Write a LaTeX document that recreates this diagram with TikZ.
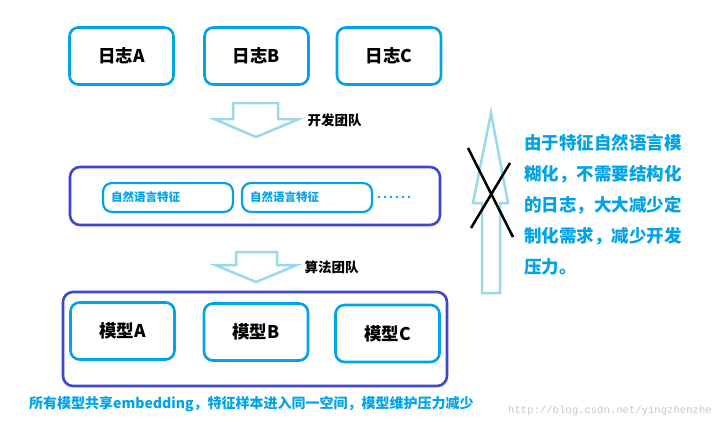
\documentclass[tikz,border=0pt]{standalone}
\usepackage{fontspec}
\setmainfont{Noto Sans CJK SC}
\newfontfamily\wmfont{Liberation Mono}
\usepackage{tikz}
\usetikzlibrary{arrows}
\definecolor{cyanblue}{HTML}{00A2E8}
\definecolor{groupblue}{HTML}{3F48CC}
\definecolor{arrowblue}{HTML}{99D9EA}

\begin{document}
\begin{tikzpicture}[x=1pt, y=-1pt,
		logbox/.style={draw=cyanblue, line width=2.6pt, rounded corners=9pt, minimum width=104pt, minimum height=57pt, font=\fontsize{17.5}{20}\selectfont\bfseries},
		groupbox/.style={draw=groupblue, line width=2.6pt, rounded corners=10pt},
		featbox/.style={draw=cyanblue, line width=2.2pt, rounded corners=9pt, minimum width=130pt, minimum height=29pt, text width=114pt, align=left, text=cyanblue, font=\fontsize{11.5}{13}\selectfont\bfseries},
		hollow/.style={draw=arrowblue, line width=2.5pt, line join=miter},
		teamlabel/.style={anchor=west, font=\fontsize{13.5}{16}\selectfont\bfseries}]
		% Bildbereich
		\useasboundingbox (0,0) rectangle (720,423);
		% Logs oben
		\node[logbox] (logA) at (121.5,56) {日志A};
		\node[logbox] (logB) at (256.5,56) {日志B};
		\node[logbox] (logC) at (389,56) {日志C};
		% Pfeil Entwicklung
		\draw[hollow] (233,103) -- (278,103) -- (278,119) -- (299,119) -- (256,137) -- (214,119) -- (233,119) -- cycle;
		\node[teamlabel] (devteam) at (304,120) {开发团队};
		% Merkmale
		\node[groupbox, minimum width=370pt, minimum height=58pt] (featgroup) at (255,196) {};
		\node[featbox] (featA) at (168,197.5) {自然语言特征};
		\node[featbox] (featB) at (307,197.5) {自然语言特征};
		\foreach \i in {0,...,5} \fill[cyanblue] (379+\i*6,197) circle (1.3pt);
		% Pfeil Algorithmus
		\draw[hollow] (236,252) -- (277,252) -- (277,265) -- (297,265) -- (256,282) -- (215,265) -- (236,265) -- cycle;
		\node[teamlabel] (algoteam) at (301,267) {算法团队};
		% Modelle
		\node[groupbox, minimum width=384pt, minimum height=94pt] (modelgroup) at (255,339) {};
		\node[logbox] (modelA) at (122.5,331) {模型A};
		\node[logbox] (modelB) at (256,332) {模型B};
		\node[logbox] (modelC) at (387.5,333.5) {模型C};
		% Pfeil nach oben, durchgestrichen
		\draw[hollow] (482,293) -- (500,293) -- (500,203) -- (508,203) -- (491,113) -- (473,203) -- (482,203) -- cycle;
		\draw[line width=2.5pt] (468,148) -- (513,237);
		\draw[line width=2.5pt] (510,163) -- (471,228);
		% Texte
		\node[anchor=north west, inner sep=0pt, text width=170pt, align=left, text=cyanblue, font=\fontsize{17.5}{31}\selectfont\bfseries] (note) at (524,134) {由于特征自然语言模\\糊化，不需要结构化\\的日志，大大减少定\\制化需求，减少开发\\压力。};
		\node[anchor=west, inner sep=0pt, text=cyanblue, font=\fontsize{14}{17}\selectfont\bfseries] (summary) at (29,404) {所有模型共享embedding，特征样本进入同一空间，模型维护压力减少};
		\node[anchor=west, inner sep=0pt, text=black!22, font=\wmfont\fontsize{10.6}{13}\selectfont] (mark) at (508,411) {http://blog.csdn.net/yingzhenzhe};
	\end{tikzpicture}
\end{document}
